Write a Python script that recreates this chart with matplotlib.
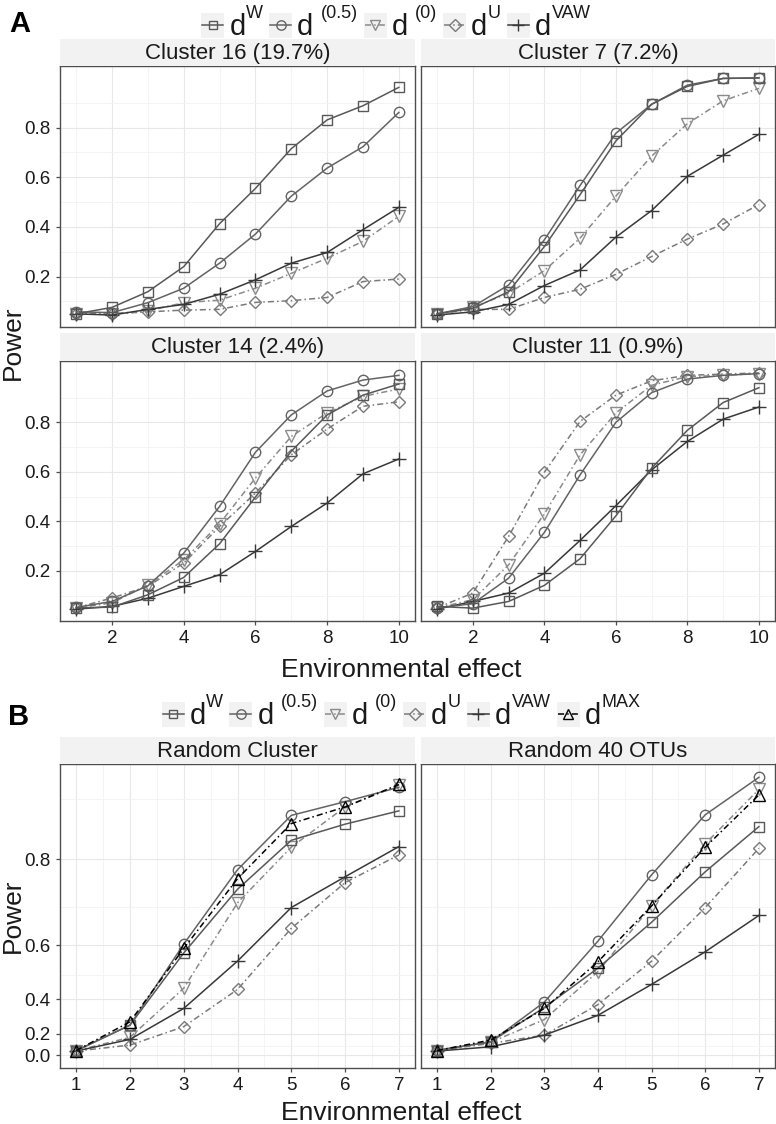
import matplotlib
matplotlib.use('Agg')
import matplotlib.pyplot as plt
import numpy as np
from matplotlib.lines import Line2D
from matplotlib.patches import Rectangle
import matplotlib.ticker as mt

plt.rcParams['font.family'] = ['Liberation Sans', 'DejaVu Sans']

# ---------------- data ----------------
x_top = [1, 2, 3, 4, 5, 6, 7, 8, 9, 10]
x_bottom = [1, 2, 3, 4, 5, 6, 7]

# legend label parts: (gap before superscript, superscript)
label_parts = {'dW': ('', 'W'), 'd05': (' ', '(0.5)'), 'd0': (' ', '(0)'),
               'dU': ('', 'U'), 'dVAW': ('', 'VAW'), 'dMAX': ('', 'MAX')}

panel_titles_top = ['Cluster 16 (19.7%)', 'Cluster 7 (7.2%)', 'Cluster 14 (2.4%)', 'Cluster 11 (0.9%)']
panel_titles_bottom = ['Random Cluster', 'Random 40 OTUs']

c16_dW = [0.05, 0.076, 0.139, 0.24, 0.413, 0.555, 0.715, 0.831, 0.888, 0.962]
c16_d05 = [0.058, 0.055, 0.095, 0.153, 0.254, 0.371, 0.524, 0.637, 0.723, 0.861]
c16_d0 = [0.05, 0.05, 0.062, 0.095, 0.105, 0.153, 0.213, 0.274, 0.342, 0.443]
c16_dU = [0.05, 0.05, 0.058, 0.065, 0.068, 0.096, 0.103, 0.116, 0.18, 0.19]
c16_dVAW = [0.05, 0.045, 0.068, 0.088, 0.129, 0.187, 0.254, 0.297, 0.389, 0.479]

c7_dW = [0.05, 0.072, 0.139, 0.321, 0.53, 0.746, 0.894, 0.966, 0.998, 1.0]
c7_d05 = [0.05, 0.079, 0.166, 0.348, 0.567, 0.777, 0.894, 0.971, 0.998, 1.0]
c7_d0 = [0.05, 0.076, 0.133, 0.224, 0.355, 0.524, 0.685, 0.816, 0.908, 0.958]
c7_dU = [0.05, 0.068, 0.068, 0.116, 0.149, 0.209, 0.281, 0.351, 0.412, 0.49]
c7_dVAW = [0.045, 0.058, 0.088, 0.164, 0.227, 0.359, 0.466, 0.604, 0.689, 0.773]

c14_dW = [0.05, 0.053, 0.103, 0.173, 0.309, 0.498, 0.683, 0.83, 0.91, 0.955]
c14_d05 = [0.052, 0.076, 0.139, 0.271, 0.46, 0.679, 0.83, 0.927, 0.971, 0.99]
c14_d0 = [0.05, 0.07, 0.143, 0.244, 0.39, 0.575, 0.743, 0.838, 0.905, 0.935]
c14_dU = [0.05, 0.09, 0.137, 0.231, 0.379, 0.514, 0.669, 0.773, 0.865, 0.883]
c14_dVAW = [0.045, 0.056, 0.089, 0.137, 0.184, 0.278, 0.379, 0.474, 0.592, 0.652]

c11_dW = [0.056, 0.049, 0.076, 0.141, 0.249, 0.422, 0.615, 0.768, 0.88, 0.94]
c11_d05 = [0.05, 0.067, 0.17, 0.355, 0.588, 0.8, 0.92, 0.975, 0.99, 0.997]
c11_d0 = [0.05, 0.083, 0.224, 0.43, 0.669, 0.838, 0.95, 0.985, 0.99, 0.997]
c11_dU = [0.05, 0.11, 0.339, 0.598, 0.804, 0.91, 0.968, 0.99, 0.995, 1.0]
c11_dVAW = [0.045, 0.076, 0.11, 0.19, 0.323, 0.463, 0.608, 0.723, 0.813, 0.862]

rc_dW = [0.048, 0.258, 0.576, 0.74, 0.834, 0.861, 0.882]
rc_d05 = [0.048, 0.258, 0.603, 0.78, 0.875, 0.896, 0.917]
rc_d0 = [0.05, 0.17, 0.449, 0.71, 0.822, 0.888, 0.92]
rc_dU = [0.045, 0.104, 0.248, 0.444, 0.647, 0.754, 0.808]
rc_dVAW = [0.045, 0.154, 0.355, 0.55, 0.699, 0.766, 0.823]
rc_dMAX = [0.05, 0.279, 0.59, 0.762, 0.862, 0.888, 0.921]

ro_dW = [0.05, 0.134, 0.36, 0.526, 0.663, 0.776, 0.857]
ro_d05 = [0.055, 0.134, 0.387, 0.612, 0.77, 0.876, 0.931]
ro_d0 = [0.05, 0.13, 0.293, 0.514, 0.703, 0.828, 0.914]
ro_dU = [0.05, 0.12, 0.188, 0.375, 0.55, 0.699, 0.82]
ro_dVAW = [0.045, 0.088, 0.188, 0.318, 0.465, 0.58, 0.68]
ro_dMAX = [0.05, 0.149, 0.355, 0.548, 0.703, 0.822, 0.906]

top_data = [
    {'dW': c16_dW, 'd05': c16_d05, 'd0': c16_d0, 'dU': c16_dU, 'dVAW': c16_dVAW},
    {'dW': c7_dW, 'd05': c7_d05, 'd0': c7_d0, 'dU': c7_dU, 'dVAW': c7_dVAW},
    {'dW': c14_dW, 'd05': c14_d05, 'd0': c14_d0, 'dU': c14_dU, 'dVAW': c14_dVAW},
    {'dW': c11_dW, 'd05': c11_d05, 'd0': c11_d0, 'dU': c11_dU, 'dVAW': c11_dVAW},
]
bottom_data = [
    {'dW': rc_dW, 'd05': rc_d05, 'd0': rc_d0, 'dU': rc_dU, 'dVAW': rc_dVAW, 'dMAX': rc_dMAX},
    {'dW': ro_dW, 'd05': ro_d05, 'd0': ro_d0, 'dU': ro_dU, 'dVAW': ro_dVAW, 'dMAX': ro_dMAX},
]

# ---------------- styles ----------------
DD = (0, (4, 2, 1, 2))
styles = {
    'dW':   dict(color='#585858', ls='-', marker='s'),
    'd05':  dict(color='#636363', ls='-', marker='o'),
    'd0':   dict(color='#8a8a8a', ls=DD, marker='v'),
    'dU':   dict(color='#7a7a7a', ls=DD, marker='D'),
    'dVAW': dict(color='#383838', ls='-', marker='+'),
    'dMAX': dict(color='#000000', ls=DD, marker='^'),
}
msizes = {'s': 7, 'o': 7.5, 'v': 8, 'D': 6.3, '+': 10, '^': 8}
order_top = ['dU', 'd0', 'dVAW', 'd05', 'dW']
order_bottom = ['dU', 'd0', 'dVAW', 'dW', 'd05', 'dMAX']

W, H = 776, 1124
fig = plt.figure(figsize=(W / 100, H / 100), dpi=100)
fig.patch.set_facecolor('white')
TXT = '#1a1a1a'


def fx(x):
    return x / W


def fy(y):
    return 1 - y / H


def rect(x0, y0, x1, y1):
    return [x0 / W, 1 - y1 / H, (x1 - x0) / W, (y1 - y0) / H]


def plot_series(ax, xs, vals, key):
    st = styles[key]
    m = st['marker']
    ax.plot(xs, vals, color=st['color'], ls=st['ls'], lw=1.1, marker=m,
            ms=msizes[m], mfc='none', mec=st['color'], mew=1.0, zorder=3,
            clip_on=False)


def style_axes(ax, title, sx0, sx1, sy0, sy1):
    ax.set_facecolor('white')
    for s in ax.spines.values():
        s.set_color('#4d4d4d')
        s.set_linewidth(1.0)
    ax.grid(True, which='major', color='#e8e8e8', lw=0.8)
    ax.grid(True, which='minor', color='#f3f3f3', lw=0.6)
    ax.set_axisbelow(True)
    ax.tick_params(which='major', length=3, width=0.9, color='#4d4d4d',
                   labelsize=13.5, labelcolor=TXT)
    ax.tick_params(axis='x', pad=3.2)
    ax.tick_params(axis='y', pad=4)
    ax.tick_params(which='minor', length=0)
    sax = fig.add_axes(rect(sx0, sy0, sx1, sy1))
    sax.set_facecolor('#f2f2f2')
    for s in sax.spines.values():
        s.set_visible(False)
    sax.set_xticks([])
    sax.set_yticks([])
    sax.text(0.5, 0.47, title, ha='center', va='center', fontsize=16,
             color=TXT, transform=sax.transAxes)


# ---------------- Panel A ----------------
cols = [(60, 415), (421, 775)]
rows_top = [(39, 66, 327), (333, 361, 621)]
for i, d in enumerate(top_data):
    r, c = divmod(i, 2)
    x0, x1 = cols[c]
    st0, py0, py1 = rows_top[r]
    ax = fig.add_axes(rect(x0, py0, x1, py1))
    for k in order_top:
        plot_series(ax, x_top, d[k], k)
    ax.set_xlim(0.55, 10.45)
    ax.set_ylim(-0.003, 1.048)
    ax.set_xticks([2, 4, 6, 8, 10])
    ax.set_xticks([1, 3, 5, 7, 9], minor=True)
    ax.set_yticks([0.2, 0.4, 0.6, 0.8])
    ax.set_yticks([0.1, 0.3, 0.5, 0.7, 0.9], minor=True)
    ax.yaxis.set_major_formatter(mt.FormatStrFormatter('%.1f'))
    style_axes(ax, panel_titles_top[i], x0, x1, st0, py0)
    if c == 1:
        ax.tick_params(axis='y', labelleft=False, length=0)
    if r == 0:
        ax.tick_params(axis='x', labelbottom=False, length=0)

# ---------------- Panel B ----------------
fwd = lambda y: np.power(10.0, y)
inv = lambda t: np.log10(np.clip(t, 1e-9, None))
for i, d in enumerate(bottom_data):
    x0, x1 = cols[i]
    ax = fig.add_axes(rect(x0, 764, x1, 1068))
    for k in order_bottom:
        plot_series(ax, x_bottom, d[k], k)
    ax.set_yscale('function', functions=(fwd, inv))
    ax.set_xlim(0.7, 7.3)
    ax.set_ylim(-0.187, 0.949)
    ax.set_xticks([1, 2, 3, 4, 5, 6, 7])
    ax.set_xticks([1.5, 2.5, 3.5, 4.5, 5.5, 6.5], minor=True)
    ax.set_yticks([0.0, 0.2, 0.4, 0.6, 0.8])
    ax.set_yticks([0.1, 0.3, 0.5, 0.7, 0.9], minor=True)
    ax.yaxis.set_major_formatter(mt.FormatStrFormatter('%.1f'))
    ax.yaxis.set_minor_formatter(mt.NullFormatter())
    style_axes(ax, panel_titles_bottom[i], x0, x1, 737, 764)
    if i == 1:
        ax.tick_params(axis='y', labelleft=False, length=0)

# ---------------- labels ----------------
fig.text(fx(13), fy(343), 'Power', rotation=90, ha='center', va='center', fontsize=19, color=TXT)
fig.text(fx(13), fy(916), 'Power', rotation=90, ha='center', va='center', fontsize=19, color=TXT)
fig.text(fx(401), fy(677), 'Environmental effect', ha='center', va='baseline', fontsize=19, color=TXT)
fig.text(fx(401), fy(1120), 'Environmental effect', ha='center', va='baseline', fontsize=19, color=TXT)
fig.text(fx(9), fy(32), 'A', ha='left', va='baseline', fontsize=21, fontweight='bold')
fig.text(fx(8), fy(725), 'B', ha='left', va='baseline', fontsize=21, fontweight='bold')

# ---------------- legends (drawn by hand: key box + d + superscript) ----------------
renderer = fig.canvas.get_renderer()


def text_w(s, size):
    t = fig.text(0, 0, s, fontsize=size)
    w = t.get_window_extent(renderer).width
    t.remove()
    return w


KEY_W, KEY_H, GAP1, GAP2, SPACE = 23, 25, 5, 6, 7
FS_MAIN, FS_SUP, RAISE = 21, 13, 17


def draw_legend(keys, xc, yk):
    base = yk + 10
    widths = []
    for k in keys:
        sp, sup = label_parts[k]
        w = KEY_W + GAP1 + text_w('d', FS_MAIN) + (SPACE if sp else 0.5) + text_w(sup, FS_SUP)
        widths.append(w)
    total = sum(widths) + GAP2 * (len(keys) - 1)
    x = xc - total / 2
    for k, w in zip(keys, widths):
        st = styles[k]
        m = st['marker']
        fig.add_artist(Rectangle((fx(x), fy(yk + KEY_H / 2)), KEY_W / W, KEY_H / H,
                                 transform=fig.transFigure, facecolor='#f2f2f2',
                                 edgecolor='none'))
        fig.add_artist(Line2D([fx(x + 1), fx(x + KEY_W - 1)], [fy(yk), fy(yk)],
                              transform=fig.transFigure, color=st['color'],
                              ls=st['ls'], lw=1.1))
        fig.add_artist(Line2D([fx(x + KEY_W / 2)], [fy(yk)], transform=fig.transFigure,
                              ls='none', marker=m, ms=msizes[m] * 0.9, mfc='none',
                              mec=st['color'], mew=1.0))
        tx = x + KEY_W + GAP1
        fig.text(fx(tx), fy(base), 'd', fontsize=FS_MAIN, color=TXT, ha='left', va='baseline')
        sp, sup = label_parts[k]
        tx += text_w('d', FS_MAIN) + (SPACE if sp else 0.5)
        fig.text(fx(tx), fy(base - RAISE), sup, fontsize=FS_SUP, color=TXT, ha='left', va='baseline')
        x += w + GAP2


draw_legend(['dW', 'd05', 'd0', 'dU', 'dVAW'], 396, 25)
draw_legend(['dW', 'd05', 'd0', 'dU', 'dVAW', 'dMAX'], 401, 714)

fig.savefig('out.png', dpi=100)
